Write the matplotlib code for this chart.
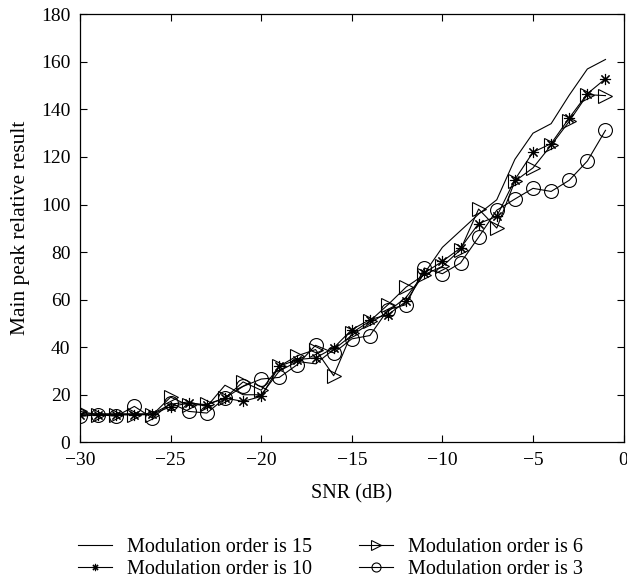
import matplotlib
matplotlib.use("Agg")
import matplotlib.pyplot as plt
import numpy as np

snr = list(range(-30, 0))

order15 = [12, 12, 12, 12, 12, 16, 17, 15, 24, 20, 20, 30, 34, 33, 39, 45,
           50, 55, 61, 71, 82, 89, 96, 102, 119, 130, 134, 146, 157, 161]
order10 = [11.6, 11.6, 11.6, 11.6, 11.8, 15, 16.5, 15.8, 18.6, 17.2, 19.3, 32, 34.8, 35.5, 39.7, 47.4,
           51.6, 53.7, 59.3, 71.2, 76.1, 81.7, 92, 95, 110.5, 122, 125.6, 136.4, 146.6, 152.9]
order6 = [13, 11.6, 11.6, 11.6, 11.6, 19, 15.5, 16, 18.6, 25.4, 21.9, 32, 36.4, 39, 28, 46,
          51, 57.9, 65.3, 70.5, 74, 81, 98.1, 90.1, 109.8, 115.4, 124.9, 135, 146.2, 145.8]
order3 = [10.9, 11.6, 11, 15.1, 10.2, 16.5, 13, 12.3, 18.6, 23.5, 26.6, 27.3, 32.7, 40.8, 37.6, 43.5,
          44.9, 55.8, 57.9, 73.3, 70.9, 75.4, 86.3, 97.6, 102.3, 106.8, 105.5, 110.2, 118.3, 131.2]

labels = ["Modulation order is 15", "Modulation order is 10",
          "Modulation order is 6", "Modulation order is 3"]
xticks = [-30, -25, -20, -15, -10, -5, 0]
yticks = list(range(0, 181, 20))

plt.rcParams['font.family'] = ['Liberation Serif', 'DejaVu Serif']

fig = plt.figure(figsize=(6.27, 5.8), dpi=100)
ax = fig.add_axes([80/627, 1 - 442.3/580, (623.6-80)/627, (442.3-14.3)/580])

lw = 0.8
ax.plot(snr, order15, color='black', lw=lw, label=labels[0])
ax.plot(snr, order10, color='black', lw=lw, marker=(8, 2, 0), markersize=8,
        markeredgewidth=0.8, label=labels[1])
ax.plot(snr, order6, color='black', lw=lw, marker='>', markersize=10,
        markerfacecolor='none', markeredgewidth=0.8, label=labels[2])
ax.plot(snr, order3, color='black', lw=lw, marker='o', markersize=10,
        markerfacecolor='none', markeredgewidth=0.8, label=labels[3])

ax.set_xlim(-30, 0)
ax.set_ylim(0, 180)
ax.set_xticks(xticks)
ax.set_yticks(yticks)
ax.tick_params(direction='in', top=True, right=True, length=5, width=0.8,
               labelsize=14, pad=7)
for s in ax.spines.values():
    s.set_linewidth(0.9)

ax.set_xlabel("SNR (dB)", fontsize=14.5, labelpad=11)
ax.set_ylabel("Main peak relative result", fontsize=15.5, labelpad=8)

handles, labs = ax.get_legend_handles_labels()
leg = fig.legend(handles, labs, ncol=2, loc='upper left',
                 bbox_to_anchor=(80/627 - 0.003, 1 - 538/580),
                 bbox_transform=fig.transFigure, frameon=False, fontsize=14.5,
                 handlelength=1.7, handletextpad=0.75, columnspacing=2.3,
                 labelspacing=0.12, borderaxespad=0, borderpad=0, markerscale=0.65)

fig.savefig("out.png", dpi=100)
